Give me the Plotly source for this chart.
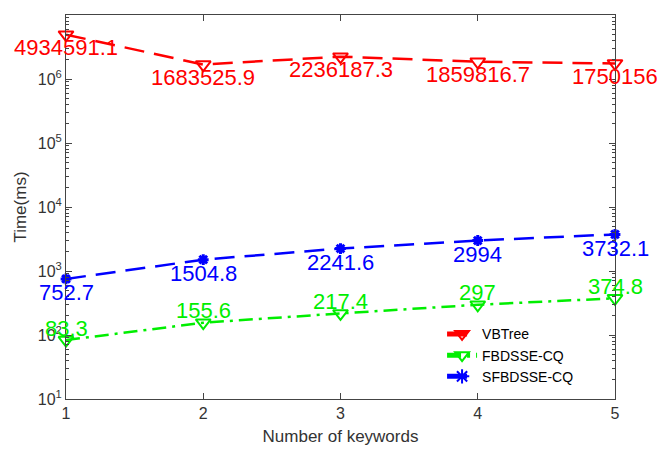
import math
import plotly.graph_objects as go

x_vals = [1, 2, 3, 4, 5]
vbtree = [4934591.1, 1683525.9, 2236187.3, 1859816.7, 1750156]
fbdsse = [83.3, 155.6, 217.4, 297, 374.8]
sfbdsse = [752.7, 1504.8, 2241.6, 2994, 3732.1]
vbtree_labels = ["4934591.1", "1683525.9", "2236187.3", "1859816.7", "1750156"]
fbdsse_labels = ["83.3", "155.6", "217.4", "297", "374.8"]
sfbdsse_labels = ["752.7", "1504.8", "2241.6", "2994", "3732.1"]
y_tick_vals = [10, 100, 1000, 10000, 100000, 1000000, 10000000]
y_tick_text = ["10<sup>1</sup>", "10<sup>2</sup>", "10<sup>3</sup>", "10<sup>4</sup>",
               "10<sup>5</sup>", "10<sup>6</sup>", "10<sup>7</sup>"]

font_family = "Liberation Sans, Arial, sans-serif"
RED, GREEN, BLUE = "#ff0000", "#00ee00", "#0000ff"
AXIS_TEXT = "#333333"

fig = go.Figure()
fig.add_trace(go.Scatter(
    x=x_vals, y=vbtree, name="VBTree", mode="lines+markers",
    line=dict(color=RED, width=2.5, dash="20px,10px"),
    marker=dict(symbol="triangle-down-open", size=13, color=RED, line=dict(width=2)),
    cliponaxis=False,
))
fig.add_trace(go.Scatter(
    x=x_vals, y=fbdsse, name="FBDSSE-CQ", mode="lines+markers",
    line=dict(color=GREEN, width=2.5, dash="14px,6px,3px,6px"),
    marker=dict(symbol="triangle-down-open", size=13, color=GREEN, line=dict(width=2)),
    cliponaxis=False,
))
fig.add_trace(go.Scatter(
    x=x_vals, y=sfbdsse, name="SFBDSSE-CQ", mode="lines+markers",
    line=dict(color=BLUE, width=2.5, dash="20px,10px"),
    marker=dict(symbol="asterisk-open", size=9, color=BLUE, line=dict(width=3, color=BLUE)),
    cliponaxis=False,
))

annotations = []
for vals, labels, color, shift in [(vbtree, vbtree_labels, RED, -13),
                                   (fbdsse, fbdsse_labels, GREEN, 12),
                                   (sfbdsse, sfbdsse_labels, BLUE, -14)]:
    for xv, yv, lab in zip(x_vals, vals, labels):
        annotations.append(dict(
            x=xv, y=math.log10(yv), text=lab, showarrow=False, yshift=shift,
            xanchor="center", yanchor="middle",
            font=dict(size=22, color=color, family=font_family),
        ))

axis_common = dict(
    showline=True, linecolor="#444444", linewidth=1, mirror="ticks",
    ticks="inside", tickcolor="#444444", ticklen=6, showgrid=False, zeroline=False,
    tickfont=dict(size=16, color=AXIS_TEXT, family=font_family),
    automargin=False,
)
fig.update_xaxes(
    range=[1, 5], tickvals=x_vals,
    title=dict(text="Number of keywords", font=dict(size=17, color=AXIS_TEXT, family=font_family), standoff=8),
    **axis_common,
)
minor_vals = [m * 10 ** d for d in range(1, 7) for m in range(2, 10)]
fig.update_yaxes(
    type="log", range=[1, 7], tickvals=y_tick_vals, ticktext=y_tick_text,
    minor=dict(ticks="inside", ticklen=3, tickcolor="#444444", showgrid=False, tickvals=minor_vals),
    title=dict(text="Time(ms)", font=dict(size=17, color=AXIS_TEXT, family=font_family), standoff=6),
    **axis_common,
)
fig.update_layout(
    width=657, height=444,
    margin=dict(l=58, r=50, t=7, b=53),
    paper_bgcolor="white", plot_bgcolor="white",
    font=dict(family=font_family),
    annotations=annotations,
    legend=dict(x=0.685, y=0.21, xanchor="left", yanchor="top",
                bgcolor="rgba(255,255,255,0)", font=dict(size=14, color="#000000", family=font_family),
                tracegroupgap=0, itemsizing="constant"),
    showlegend=True,
)
fig.write_html("out.html")
